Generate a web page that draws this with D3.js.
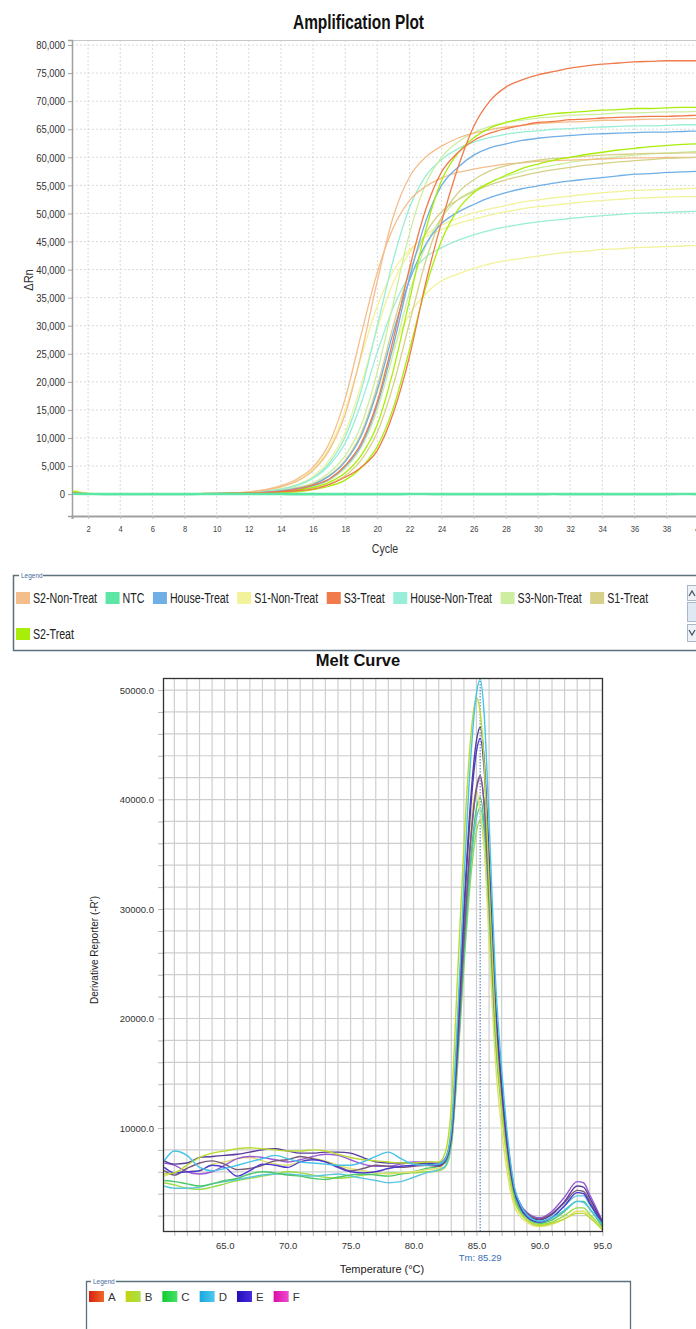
<!DOCTYPE html>
<html>
<head>
<meta charset="utf-8">
<script src="https://cdn.jsdelivr.net/npm/d3@7/dist/d3.min.js"></script>
<style>
  body { margin: 0; background: #fff; }
  svg { display: block; }
  .narrow { font-family: "Liberation Sans Narrow", "Arial Narrow", "Liberation Sans", sans-serif; }
  .arial { font-family: "Liberation Sans", Arial, sans-serif; }
</style>
</head>
<body>
<svg id="chart" width="696" height="1329"></svg>
<script>
"use strict";

// ---------------------------------------------------------------
// Amplification plot data (delta Rn per cycle)
// ---------------------------------------------------------------
var cycles = [1, 2, 3, 4, 5, 6, 7, 8, 9, 10, 11, 12, 13, 14, 15, 16, 17, 18, 19, 20,
              21, 22, 23, 24, 25, 26, 27, 28, 29, 30, 31, 32, 33, 34, 35, 36, 37, 38, 39, 40];
var cycleTicks = [2, 4, 6, 8, 10, 12, 14, 16, 18, 20, 22, 24, 26, 28, 30, 32, 34, 36, 38, 40];
var deltaRnTicks = [0, 5000, 10000, 15000, 20000, 25000, 30000, 35000, 40000,
                    45000, 50000, 55000, 60000, 65000, 70000, 75000, 80000];

var ntc = [60, 20, 0, 0, 0, 0, 0, 0, 10, 10, 20, 20, 20, 10, 0, 0, -10, -10, 0, 0,
           0, 10, 10, 0, 0, 0, -10, 0, 0, 0, 10, 0, 0, 0, 0, -10, 0, 0, 10, 0];
var s1NonTreatA = [600, 150, 0, 0, 0, 0, 20, 60, 100, 160, 220, 300, 500, 1000, 1700, 3200, 6000, 11000, 19500, 29500,
                   37800, 43000, 46200, 47900, 49100, 50100, 50800, 51400, 52000, 52400, 52800, 53100, 53400, 53700, 53900, 54100, 54200, 54300, 54400, 54500];
var s1NonTreatB = [400, 100, 0, 0, 0, 0, 30, 60, 100, 150, 200, 400, 700, 1300, 2400, 4500, 8200, 15000, 24500, 33500,
                   39800, 43500, 45800, 47100, 48200, 49000, 49700, 50300, 50800, 51200, 51500, 51800, 52100, 52300, 52500, 52700, 52800, 52900, 53000, 53000];
var s1NonTreatC = [700, 150, 0, 0, 0, 0, 20, 50, 90, 130, 170, 200, 300, 600, 1000, 1800, 3300, 6000, 10900, 18200,
                   26000, 32000, 35700, 38000, 39200, 40200, 41000, 41600, 42000, 42400, 42800, 43100, 43300, 43600, 43700, 43900, 44000, 44100, 44200, 44300];
var houseNonTreatA = [500, 100, 0, 0, 0, 0, 20, 50, 90, 140, 200, 300, 500, 900, 1600, 2900, 5500, 10200, 18500, 30000,
                      41800, 51000, 56600, 59600, 61500, 62700, 63500, 64100, 64500, 64700, 65000, 65100, 65300, 65400, 65500, 65600, 65600, 65700, 65800, 65800];
var houseNonTreatB = [300, 60, 0, 0, 0, 0, 20, 50, 90, 140, 200, 300, 500, 900, 1500, 2800, 5100, 9100, 16200, 25300,
                      33300, 38900, 42200, 43900, 45200, 46200, 47000, 47600, 48100, 48500, 48800, 49100, 49400, 49600, 49800, 50000, 50100, 50200, 50300, 50400];
var s3NonTreatA = [400, 80, 0, 0, 0, 0, 10, 40, 70, 110, 160, 220, 300, 700, 1200, 2000, 3800, 6800, 12300, 21800,
                   34100, 46400, 55200, 60000, 62700, 64400, 65500, 66200, 66600, 67000, 67200, 67500, 67600, 67700, 67900, 67900, 68000, 68100, 68100, 68200];
var s3NonTreatB = [150, 40, 0, 0, 0, 0, 0, 20, 50, 90, 140, 190, 200, 400, 800, 1400, 2500, 4600, 8300, 15000,
                   25100, 35900, 44100, 49300, 52400, 54100, 55500, 56600, 57400, 58100, 58600, 59100, 59500, 59800, 60100, 60400, 60600, 60800, 60900, 61100];
var s2NonTreatA = [300, 60, 0, 0, 0, 0, 20, 60, 100, 160, 220, 300, 700, 1300, 2300, 4200, 7800, 14200, 25000, 38000,
                   49500, 56500, 60000, 62000, 63400, 64300, 64900, 65400, 65700, 66000, 66200, 66300, 66400, 66600, 66600, 66700, 66800, 66800, 66900, 66900];
var s2NonTreatB = [400, 80, 0, 0, 0, 0, 30, 60, 100, 150, 200, 400, 800, 1500, 2700, 4800, 9000, 17000, 28500, 39500,
                   47500, 52300, 54800, 56300, 57300, 57900, 58400, 58800, 59000, 59300, 59400, 59500, 59600, 59700, 59800, 59900, 59900, 60000, 60000, 60000];
var s1TreatA = [300, 60, 0, 0, 0, 0, 0, 20, 50, 80, 120, 170, 220, 300, 600, 1100, 1800, 3300, 6100, 11000,
                19500, 30500, 41400, 49300, 53600, 56000, 57600, 58500, 59100, 59500, 59800, 60000, 60200, 60400, 60500, 60600, 60700, 60700, 60800, 60800];
var s1TreatB = [250, 50, 0, 0, 0, 0, 10, 40, 70, 110, 160, 220, 300, 600, 1100, 1800, 3300, 6000, 10800, 19300,
                30100, 39700, 46400, 50300, 52400, 53900, 55100, 56000, 56700, 57300, 57800, 58200, 58600, 58900, 59200, 59400, 59600, 59800, 59900, 60000];
var houseTreatA = [200, 40, 0, 0, 0, 0, 10, 40, 80, 120, 170, 220, 300, 500, 800, 1500, 2600, 4900, 8700, 15900,
                   26500, 38500, 48500, 55000, 58200, 60400, 61700, 62400, 63000, 63400, 63700, 63900, 64100, 64200, 64300, 64400, 64500, 64500, 64600, 64700];
var houseTreatB = [300, 60, 0, 0, 0, 0, 0, 30, 60, 100, 150, 210, 300, 600, 1000, 1700, 3200, 5800, 10400, 18500,
                   28900, 38100, 44400, 48200, 50200, 51600, 52800, 53700, 54400, 54900, 55400, 55800, 56100, 56400, 56700, 57000, 57100, 57300, 57400, 57500];
var s2TreatA = [500, 100, 0, 0, 0, 0, 0, 20, 50, 80, 120, 160, 220, 300, 700, 1200, 2100, 3800, 6900, 12400,
                22100, 34500, 46900, 55900, 60700, 63500, 65200, 66200, 66900, 67400, 67800, 68000, 68200, 68400, 68500, 68700, 68700, 68800, 68900, 68900];
var s2TreatB = [200, 50, 0, 0, 0, 0, 0, 30, 60, 90, 130, 170, 210, 300, 400, 800, 1400, 2500, 4700, 8500,
                15400, 25700, 36700, 45200, 50600, 53700, 55500, 56800, 58000, 58800, 59500, 60000, 60500, 60900, 61300, 61600, 61900, 62100, 62300, 62400];
var s3TreatA = [300, 50, 0, 0, 0, 0, 0, 20, 40, 60, 100, 150, 250, 400, 600, 900, 1700, 3000, 4800, 7800,
                14500, 24500, 37500, 48500, 58000, 65500, 70000, 72500, 73800, 74700, 75300, 75900, 76300, 76600, 76800, 77000, 77100, 77200, 77200, 77200];
var s3TreatB = [300, 60, 0, 0, 0, 0, 10, 30, 60, 100, 150, 200, 300, 500, 900, 1600, 2700, 5100, 9100, 16500,
                27700, 40200, 50600, 57400, 60800, 63000, 64300, 65100, 65700, 66200, 66400, 66700, 66800, 67000, 67100, 67200, 67300, 67300, 67400, 67500];

var ampLegend = ["S2-Non-Treat", "NTC", "House-Treat", "S1-Non-Treat", "S3-Treat",
                 "House-Non-Treat", "S3-Non-Treat", "S1-Treat", "S2-Treat"];

var ampSeries = [
    { sample: "S1-Non-Treat", values: s1NonTreatA },
    { sample: "S1-Non-Treat", values: s1NonTreatB },
    { sample: "S1-Non-Treat", values: s1NonTreatC },
    { sample: "House-Non-Treat", values: houseNonTreatA },
    { sample: "House-Non-Treat", values: houseNonTreatB },
    { sample: "S3-Non-Treat", values: s3NonTreatA },
    { sample: "S3-Non-Treat", values: s3NonTreatB },
    { sample: "S2-Non-Treat", values: s2NonTreatA },
    { sample: "S2-Non-Treat", values: s2NonTreatB },
    { sample: "S1-Treat", values: s1TreatA },
    { sample: "S1-Treat", values: s1TreatB },
    { sample: "House-Treat", values: houseTreatA },
    { sample: "House-Treat", values: houseTreatB },
    { sample: "S2-Treat", values: s2TreatA },
    { sample: "S2-Treat", values: s2TreatB },
    { sample: "S3-Treat", values: s3TreatB },
    { sample: "S3-Treat", values: s3TreatA },
    { sample: "NTC", values: ntc }
];

// ---------------------------------------------------------------
// Melt curve data (derivative reporter per temperature)
// ---------------------------------------------------------------
var temps = [60.2, 61, 62, 63, 64, 65, 66, 67, 68, 69, 70, 71, 72, 73, 74, 75, 76, 77, 78, 79, 80, 81, 82,
             82.5, 83, 83.5, 84, 84.5, 85, 85.3, 85.6, 86, 86.5, 87, 87.5, 88, 88.5, 89, 90, 91, 92, 93, 93.5, 94, 95];
var meltTicks = [65, 70, 75, 80, 85, 90, 95];
var meltValueTicks = [10000, 20000, 30000, 40000, 50000];
var tm = 85.29;

var meltCyan = [7000, 7900, 7500, 6400, 6100, 6300, 6600, 6900, 7200, 7500, 7200, 6900, 6800, 6700, 6600, 6600, 6900, 7400, 7800, 7200, 6700, 6600, 6700,
                7100, 9800, 20000, 32400, 43000, 49700, 51000, 48000, 38100, 23800, 15400, 8900, 4700, 3000, 2100, 1500, 1800, 2500, 3300, 3200, 2600, 1200];
var meltYellowGreen = [5800, 5900, 6600, 7300, 7700, 7900, 8100, 8200, 8100, 8000, 7900, 7900, 8000, 7900, 7600, 7300, 7100, 7000, 6900, 6800, 6800, 6900, 6900,
                       7700, 12000, 23900, 35700, 45100, 49300, 47900, 43500, 32500, 19500, 11800, 6500, 3400, 2200, 1600, 1100, 1300, 1700, 2200, 2200, 1800, 700];
var meltDarkPurple = [7000, 6700, 6800, 7300, 7400, 7500, 7600, 7800, 8000, 8100, 7900, 7700, 7700, 7800, 7800, 7700, 7300, 6900, 6800, 6800, 6800, 6700, 6600,
                      7000, 9400, 18600, 29800, 39400, 45400, 46600, 43900, 34900, 21900, 14200, 8400, 4500, 3000, 2100, 1600, 2100, 3300, 4700, 4600, 3600, 1400];
var meltBlueViolet = [6400, 5900, 6000, 6100, 6600, 6400, 5600, 6100, 6700, 6600, 6400, 6900, 7100, 6900, 6400, 6000, 5900, 6000, 6300, 6500, 6600, 6800, 6700,
                      7100, 9400, 18400, 29300, 38600, 44400, 45600, 42900, 34100, 21300, 13800, 8000, 4300, 2700, 1900, 1400, 1800, 2900, 4100, 4000, 3100, 1200];
var meltMauve = [6100, 5700, 6300, 6800, 7000, 6700, 6200, 6300, 6600, 7000, 7100, 7400, 7200, 6900, 6500, 6100, 6300, 6600, 6500, 6400, 6500, 6600, 6500,
                 6900, 9000, 17200, 27200, 35800, 41100, 42200, 39800, 31700, 19900, 13000, 7800, 4300, 2900, 2200, 1700, 2200, 3200, 4300, 4200, 3300, 1300];
var meltPurple = [6800, 6600, 6000, 5800, 6000, 6600, 7200, 7400, 7300, 7100, 6900, 7100, 7400, 7600, 7500, 7100, 6700, 6500, 6500, 6700, 6900, 6900, 6800,
                  7200, 9300, 17400, 27200, 35700, 40900, 42000, 39600, 31500, 19900, 13100, 7800, 4400, 3000, 2300, 1800, 2400, 3700, 5100, 5000, 3900, 1500];
var meltYellow = [5600, 5900, 6000, 6100, 6700, 6900, 7200, 7300, 7000, 6700, 6600, 6900, 7200, 7000, 6600, 6300, 6100, 5900, 5800, 5900, 6000, 6200, 6300,
                  7000, 10500, 20100, 29800, 37400, 40900, 38700, 36100, 27000, 16200, 9900, 5500, 2900, 1900, 1400, 1000, 1200, 1700, 2400, 2400, 1900, 800];
var meltGreen = [5200, 5100, 4900, 4700, 4900, 5200, 5400, 5800, 6000, 5900, 5700, 5600, 5400, 5300, 5500, 5700, 5800, 5700, 5600, 5800, 6000, 6300, 6500,
                 6800, 8900, 16600, 26000, 34100, 39200, 40200, 37900, 30100, 18800, 12200, 7100, 3800, 2500, 1800, 1300, 1600, 2400, 3300, 3300, 2600, 1000];
var meltCyan2 = [4700, 4500, 4500, 4600, 4900, 5100, 5300, 5500, 5700, 5800, 5800, 5700, 5600, 5700, 5800, 5600, 5400, 5200, 5000, 5100, 5500, 5900, 6200,
                 6500, 8500, 16100, 25400, 33300, 38300, 39300, 37000, 29400, 18500, 12000, 7100, 3900, 2500, 1900, 1400, 1900, 2900, 3800, 3800, 3000, 1300];
var meltLime = [5000, 4800, 4500, 4400, 4600, 4900, 5200, 5400, 5600, 5800, 6000, 5900, 5700, 5500, 5400, 5500, 5700, 5800, 5900, 5900, 5900, 6000, 6100,
                6400, 8300, 15700, 24700, 32300, 37100, 38100, 35900, 28500, 17800, 11500, 6700, 3600, 2300, 1600, 1200, 1400, 2000, 2700, 2700, 2100, 900];

var meltLegend = ["A", "B", "C", "D", "E", "F"];

var meltSeries = [
    { color: "#98dc48", values: meltLime },
    { color: "#5cc6de", values: meltCyan2 },
    { color: "#4cc868", values: meltGreen },
    { color: "#e0e070", values: meltYellow },
    { color: "#9a5ad8", values: meltPurple },
    { color: "#7a5a7a", values: meltMauve },
    { color: "#4a3ad0", values: meltBlueViolet },
    { color: "#5a3c9c", values: meltDarkPurple },
    { color: "#b8dc30", values: meltYellowGreen },
    { color: "#45c4e6", values: meltCyan }
];

// styles
var sampleColors = {
    "S2-Non-Treat": "#f4be8c",
    "NTC": "#5ce6a6",
    "House-Treat": "#70aee6",
    "S1-Non-Treat": "#f2f29a",
    "S3-Treat": "#f07a4a",
    "House-Non-Treat": "#98eed6",
    "S3-Non-Treat": "#cdeea0",
    "S1-Treat": "#d6d088",
    "S2-Treat": "#a8ee08"
};
var meltLegendColors = {
    "A": ["#d82010", "#f06a28"],
    "B": ["#c4d410", "#a8e048"],
    "C": ["#10cc30", "#48e06a"],
    "D": ["#18a8de", "#50c8f0"],
    "E": ["#2010b8", "#4a28e0"],
    "F": ["#d810a8", "#f04ad0"]
};

// squeeze text horizontally (the original uses a narrow face)
function condense(sel, f) {
    sel.each(function () {
        var w = this.getComputedTextLength();
        d3.select(this).attr("textLength", w * f).attr("lengthAdjust", "spacingAndGlyphs");
    });
}

var svg = d3.select("#chart");

// ===============================================================
// ------------------------ Amplification Plot ------------------
// ===============================================================
var amp = { left: 72, top: 40, right: 706.75, bottom: 516 };

var xAmp = d3.scaleLinear().domain([1, 40.5]).range([amp.left, amp.right]);
var yAmp = d3.scaleLinear().domain([-3900, 80900]).range([amp.bottom, amp.top]);

svg.append("text")
    .attr("class", "narrow")
    .attr("x", 293).attr("y", 29)
    .attr("textLength", 131).attr("lengthAdjust", "spacingAndGlyphs")
    .attr("font-size", 21).attr("font-weight", "bold").attr("fill", "#111")
    .text("Amplification Plot");

var gAmp = svg.append("g");

// grid
gAmp.selectAll("line.hgrid").data(deltaRnTicks).enter().append("line")
    .attr("x1", amp.left).attr("x2", 696)
    .attr("y1", function (d) { return yAmp(d); }).attr("y2", function (d) { return yAmp(d); })
    .attr("stroke", "#d9d9d9").attr("stroke-dasharray", "2,2");
gAmp.selectAll("line.vgrid").data(cycleTicks).enter().append("line")
    .attr("y1", amp.top).attr("y2", amp.bottom)
    .attr("x1", function (d) { return xAmp(d); }).attr("x2", function (d) { return xAmp(d); })
    .attr("stroke", "#d9d9d9").attr("stroke-dasharray", "2,2");

// frame
gAmp.append("line").attr("x1", amp.left).attr("x2", 696).attr("y1", amp.top + 0.5).attr("y2", amp.top + 0.5)
    .attr("stroke", "#c8c8c8");

// axes
var yAxisAmp = d3.axisLeft(yAmp).tickValues(deltaRnTicks).tickFormat(d3.format(",")).tickSize(4).tickPadding(3);
var gy = gAmp.append("g").attr("transform", "translate(" + amp.left + ",0)").call(yAxisAmp);
gy.select(".domain").attr("stroke", "#a0a0a0").attr("stroke-width", 1.5);
gy.selectAll(".tick line").attr("stroke", "#a0a0a0");
gy.selectAll(".tick text").attr("class", "narrow").attr("font-size", 11.5).attr("fill", "#333");
condense(gy.selectAll(".tick text"), 0.82);

var xAxisAmp = d3.axisBottom(xAmp).tickValues(cycleTicks).tickSize(3).tickPadding(6);
var gx = gAmp.append("g").attr("transform", "translate(0," + amp.bottom + ")").call(xAxisAmp);
gx.select(".domain").attr("stroke", "#a0a0a0").attr("stroke-width", 2);
gx.selectAll(".tick line").attr("stroke", "#c0c0c0");
gx.selectAll(".tick text").attr("class", "narrow").attr("font-size", 9.5).attr("fill", "#444");
condense(gx.selectAll(".tick text"), 0.8);

condense(svg.append("text").attr("class", "narrow")
    .attr("x", 385).attr("y", 553).attr("text-anchor", "middle")
    .attr("font-size", 13.5).attr("fill", "#333").text("Cycle"), 0.78);
condense(svg.append("text").attr("class", "narrow")
    .attr("transform", "translate(33,280)rotate(-90)").attr("text-anchor", "middle")
    .attr("font-size", 13).attr("fill", "#333").text("\u0394Rn"), 0.85);

// curves
svg.append("clipPath").attr("id", "ampClip").append("rect")
    .attr("x", amp.left + 1).attr("y", amp.top).attr("width", 696 - amp.left).attr("height", amp.bottom - amp.top - 1);

var ampLine = d3.line()
    .x(function (d, i) { return xAmp(cycles[i]); })
    .y(function (d) { return yAmp(d); })
    .curve(d3.curveMonotoneX);

gAmp.append("g").attr("clip-path", "url(#ampClip)")
    .selectAll("path").data(ampSeries).enter().append("path")
    .attr("d", function (d) { return ampLine(d.values); })
    .attr("fill", "none")
    .attr("stroke", function (d) { return sampleColors[d.sample]; })
    .attr("stroke-width", function (d) { return d.sample === "NTC" ? 2.6 : 1.3; })
    .attr("stroke-linejoin", "round");

// legend box
var lg = svg.append("g");
lg.append("rect").attr("x", 13.5).attr("y", 575.5).attr("width", 700).attr("height", 75)
    .attr("fill", "none").attr("stroke", "#5b707c").attr("stroke-width", 1.5);
lg.append("rect").attr("x", 19).attr("y", 572).attr("width", 24).attr("height", 7).attr("fill", "#fff");
lg.append("text").attr("class", "arial").attr("x", 21).attr("y", 578)
    .attr("font-size", 6.5).attr("fill", "#4a6aa0").text("Legend");

// scroll buttons
[[585, 600], [602, 621], [624, 641]].forEach(function (b, i) {
    lg.append("rect").attr("x", 687.5).attr("y", b[0] + 0.5).attr("width", 12).attr("height", b[1] - b[0])
        .attr("fill", i === 1 ? "#dfe9f4" : "#eef2f6").attr("stroke", "#a8b8c8");
});
lg.append("path").attr("d", "M689,596 L692,591 L695,596").attr("fill", "none").attr("stroke", "#456").attr("stroke-width", 1.3);
lg.append("path").attr("d", "M689,630 L692,635 L695,630").attr("fill", "none").attr("stroke", "#456").attr("stroke-width", 1.3);

var lx = 16, ly = 592;
ampLegend.forEach(function (name) {
    var item = lg.append("g");
    var t = item.append("text").attr("class", "narrow").attr("font-size", 14).attr("fill", "#222")
        .attr("x", 17).attr("y", 11).text(name);
    var tw = t.node().getComputedTextLength() * 0.76;
    t.attr("textLength", tw).attr("lengthAdjust", "spacingAndGlyphs");
    var w = 17 + tw;
    if (lx + w > 680) { lx = 16; ly += 36; }
    item.attr("transform", "translate(" + lx + "," + ly + ")");
    item.insert("rect", "text").attr("width", 14).attr("height", 12)
        .attr("fill", sampleColors[name]);
    lx += w + 8.5;
});

// ===============================================================
// --------------------------- Melt Curve -----------------------
// ===============================================================
var melt = { left: 163, top: 678, right: 603, bottom: 1232 };
var xMelt = d3.scaleLinear().domain([60.1, 95.05]).range([melt.left, melt.right]);
var yMelt = d3.scaleLinear().domain([500, 51100]).range([melt.bottom, melt.top]);

var gridX = xMelt.ticks(35).filter(function (d) { return d % 1 === 0; });
var gridY = yMelt.ticks(30).filter(function (d) { return d % 2000 === 0 && d > 0; });

svg.append("text").attr("class", "arial")
    .attr("x", 358).attr("y", 666).attr("text-anchor", "middle")
    .attr("font-size", 16.5).attr("font-weight", "bold").attr("fill", "#111").text("Melt Curve");

var gMelt = svg.append("g");
gMelt.selectAll("line.mv").data(gridX).enter().append("line")
    .attr("x1", function (d) { return xMelt(d); }).attr("x2", function (d) { return xMelt(d); })
    .attr("y1", melt.top).attr("y2", melt.bottom)
    .attr("stroke", "#cecece").attr("stroke-width", 1.2);
gMelt.selectAll("line.mh").data(gridY).enter().append("line")
    .attr("x1", melt.left).attr("x2", melt.right)
    .attr("y1", function (d) { return yMelt(d); }).attr("y2", function (d) { return yMelt(d); })
    .attr("stroke", "#cecece").attr("stroke-width", 1.2);

var yAxisMelt = d3.axisLeft(yMelt).tickValues(gridY).tickSize(5).tickPadding(4)
    .tickFormat(function (d) { return meltValueTicks.indexOf(d) >= 0 ? d3.format(".1f")(d) : ""; });
var gmy = gMelt.append("g").attr("transform", "translate(" + melt.left + ",0)").call(yAxisMelt);
gmy.select(".domain").remove();
gmy.selectAll(".tick line").attr("stroke", "#bbb");
gmy.selectAll(".tick text").attr("class", "arial").attr("font-size", 9.5).attr("fill", "#333");

var xAxisMelt = d3.axisBottom(xMelt).tickValues(gridX).tickSize(4).tickPadding(6)
    .tickFormat(function (d) { return meltTicks.indexOf(d) >= 0 ? d3.format(".1f")(d) : ""; });
var gmx = gMelt.append("g").attr("transform", "translate(0," + melt.bottom + ")").call(xAxisMelt);
gmx.select(".domain").remove();
gmx.selectAll(".tick line").attr("stroke", "#bbb");
gmx.selectAll(".tick text").attr("class", "arial").attr("font-size", 9.5).attr("fill", "#333");

// Tm marker
gMelt.append("line")
    .attr("x1", xMelt(tm)).attr("x2", xMelt(tm)).attr("y1", melt.top).attr("y2", melt.bottom)
    .attr("stroke", "#3a6fb4").attr("stroke-width", 1).attr("stroke-dasharray", "1.5,1.5");

svg.append("clipPath").attr("id", "meltClip").append("rect")
    .attr("x", melt.left).attr("y", melt.top).attr("width", melt.right - melt.left).attr("height", melt.bottom - melt.top);

var meltLine = d3.line()
    .x(function (d, i) { return xMelt(temps[i]); })
    .y(function (d) { return yMelt(d); })
    .curve(d3.curveMonotoneX);

gMelt.append("g").attr("clip-path", "url(#meltClip)")
    .selectAll("path").data(meltSeries).enter().append("path")
    .attr("d", function (d) { return meltLine(d.values); })
    .attr("fill", "none")
    .attr("stroke", function (d) { return d.color; })
    .attr("stroke-width", 1.4)
    .attr("stroke-linejoin", "round");

gMelt.append("rect")
    .attr("x", melt.left + 0.5).attr("y", melt.top + 0.5)
    .attr("width", melt.right - melt.left - 1).attr("height", melt.bottom - melt.top - 1)
    .attr("fill", "none").attr("stroke", "#333").attr("stroke-width", 1.3);

svg.append("text").attr("class", "arial")
    .attr("x", xMelt(tm)).attr("y", 1261).attr("text-anchor", "middle")
    .attr("font-size", 9.5).attr("fill", "#3a6fb4").text("Tm: 85.29");
svg.append("text").attr("class", "arial")
    .attr("x", 382).attr("y", 1273).attr("text-anchor", "middle")
    .attr("font-size", 11).attr("fill", "#222").text("Temperature (\u00b0C)");
svg.append("text").attr("class", "arial")
    .attr("transform", "translate(98,950)rotate(-90)").attr("text-anchor", "middle")
    .attr("font-size", 10).attr("fill", "#222").text("Derivative Reporter (-R')");

// melt legend
var defs = svg.append("defs");
meltLegend.forEach(function (k) {
    var gr = defs.append("linearGradient").attr("id", "grad" + k).attr("x1", "0").attr("x2", "1");
    gr.append("stop").attr("offset", "0").attr("stop-color", meltLegendColors[k][0]);
    gr.append("stop").attr("offset", "1").attr("stop-color", meltLegendColors[k][1]);
});

var ml = svg.append("g");
ml.append("path").attr("d", "M86.5,1340 V1281.5 H630.5 V1340")
    .attr("fill", "none").attr("stroke", "#5b707c").attr("stroke-width", 1.3);
ml.append("rect").attr("x", 91).attr("y", 1277).attr("width", 25).attr("height", 8).attr("fill", "#fff");
ml.append("text").attr("class", "arial").attr("x", 93).attr("y", 1284)
    .attr("font-size", 6.5).attr("fill", "#4a6aa0").text("Legend");

var mlx = 89;
meltLegend.forEach(function (k) {
    ml.append("rect").attr("x", mlx).attr("y", 1291).attr("width", 15).attr("height", 11)
        .attr("fill", "url(#grad" + k + ")");
    var t = ml.append("text").attr("class", "arial").attr("x", mlx + 19).attr("y", 1301)
        .attr("font-size", 11.5).attr("fill", "#333").text(k);
    mlx += 19 + t.node().getComputedTextLength() + 10;
});
</script>
</body>
</html>
